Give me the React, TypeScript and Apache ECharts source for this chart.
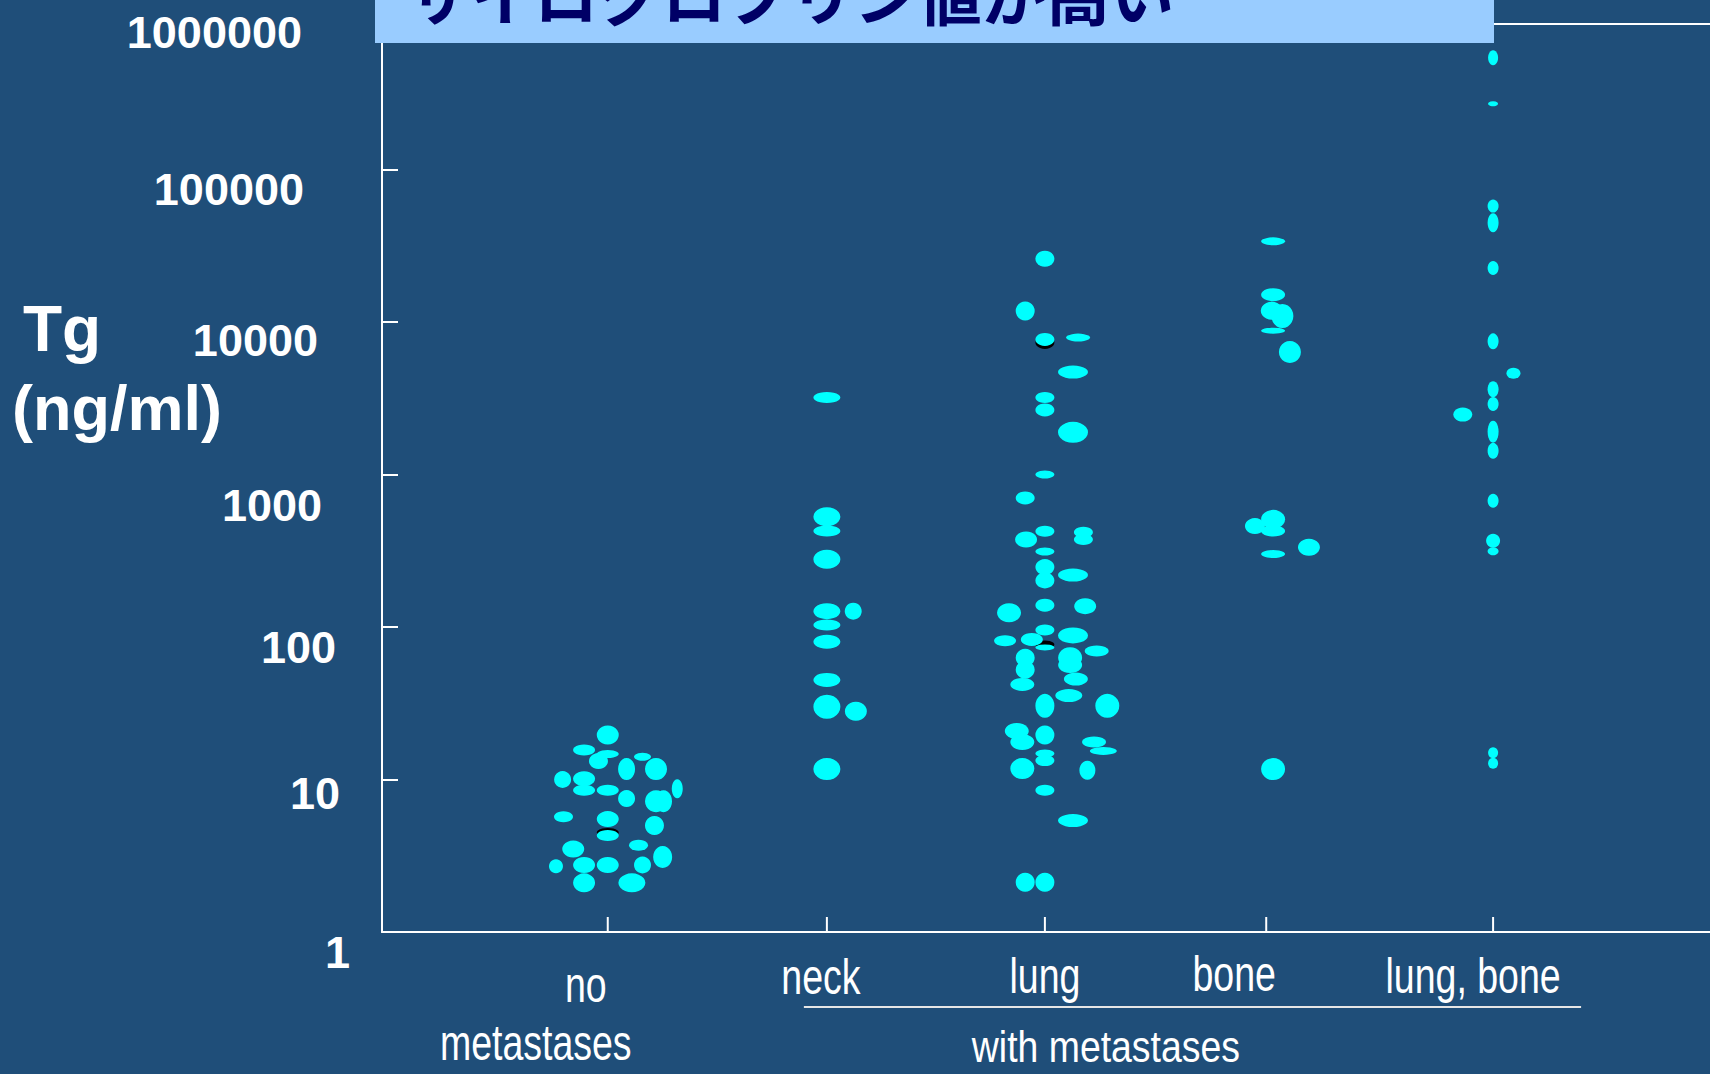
import React, { useEffect, useRef } from 'react';
import * as echarts from 'echarts';

const BG = '#1F4E79';
const CYAN = '#00FFFF';

const categories = ['no metastases', 'neck', 'lung', 'bone', 'lung, bone'];
const categoryPositions = [0, 0.99, 1.975, 2.975, 4.0];
const categoryLabelLines = [['no', 'metastases'], ['neck'], ['lung'], ['bone'], ['lung, bone']];
const groupLabel = 'with metastases';
const titleText = 'サイログロブリン値が高い';
const yTitleLines = ['Tg', '(ng/ml)'];
const yTickValues = [1, 10, 100, 1000, 10000, 100000, 1000000];
const yTickLabels = ['1', '10', '100', '1000', '10000', '100000', '1000000'];

// [horizontal jitter in category units, Tg (ng/ml)]
const noMetastases = [
  [0, 19.6], [-0.107, 15.6], [-0.042, 13.2], [0, 14.7], [0.085, 11.7], [0.157, 14.1], [0.218, 11.7],
  [-0.204, 10.0], [-0.107, 10.1], [-0.107, 8.5], [0, 8.5], [0.085, 7.5], [0.218, 7.2], [0.252, 7.2],
  [0.314, 8.7], [-0.2, 5.7], [0, 5.5], [0, 4.3], [0.211, 5.0], [-0.156, 3.5], [0.139, 3.7],
  [0.248, 3.1], [-0.234, 2.7], [-0.107, 2.75], [0, 2.75], [0.157, 2.75], [-0.107, 2.1], [0.109, 2.1],
];
const neck = [
  [0, 3200], [0, 529], [0, 426], [0, 278], [0, 127], [0.119, 127], [0, 103], [0, 80], [0, 45],
  [0, 30], [0.131, 28], [0, 11.7],
];
const lung = [
  [0, 26000], [-0.089, 11800], [0, 7690], [0.15, 7900], [0.127, 4700], [0, 3200], [0, 2650],
  [0.127, 1890], [0, 1000], [-0.089, 702], [0, 424], [0.174, 418], [0.174, 375], [-0.085, 375],
  [0, 313], [0, 247], [0, 202], [0.127, 219], [-0.162, 124], [0, 139], [0.182, 137], [0, 95.6],
  [-0.18, 81.3], [-0.059, 82.9], [0.127, 88.1], [0, 73.5], [0.234, 69.6], [-0.089, 62.9],
  [-0.089, 52.5], [0.114, 62.9], [0.114, 56.3], [-0.102, 42.0], [0.14, 45.6], [0.108, 35.5],
  [0, 30.4], [0.282, 30.4], [-0.127, 20.8], [-0.102, 17.6], [0, 19.6], [0, 14.8], [0, 13.3],
  [0.222, 17.6], [0.264, 15.4], [-0.102, 11.8], [0.192, 11.5], [0, 8.5], [0.127, 5.38],
  [-0.089, 2.12], [0, 2.12],
];
const bone = [
  [0.031, 33800], [0.031, 15100], [0.025, 11860], [0.073, 10950], [0.031, 8770], [0.107, 6360],
  [-0.051, 459], [0.031, 508], [0.031, 426], [0.193, 333], [0.031, 301], [0.031, 11.7],
];
const lungBone = [
  [0, 540000], [0, 270000], [0, 57600], [0, 44800], [0, 22600], [0, 7470], [0.092, 4610],
  [0, 3620], [0, 2900], [-0.137, 2470], [0, 1910], [0, 1430], [0, 673], [0, 368], [0, 314],
  [0, 15], [0, 12.8],
];
// [category index, jitter, value] of the points that show a dark rim
const shadowPoints = [[0, 0, 4.3], [2, 0, 7690], [2, 0, 73.5]];

// marker sizes [w, h] in px (styles, kept apart from the data)
const noMetSizes = [
  [22, 19], [22, 11], [19, 16], [22, 8], [17, 22], [17, 8], [22, 22], [17, 17], [22, 15], [22, 11],
  [22, 11], [17, 17], [22, 22], [17, 22], [11, 19], [19, 11], [22, 16], [22, 11], [19, 19], [22, 17],
  [19, 11], [19, 22], [14, 14], [22, 16], [22, 16], [17, 17], [22, 19], [27, 19],
];
const neckSizes = [
  [27, 11], [27, 19], [27, 11], [27, 19], [27, 16], [17, 17], [27, 11], [27, 14], [27, 14], [27, 24],
  [22, 19], [27, 22],
];
const lungSizes = [
  [19, 16], [19, 19], [19, 13], [24, 8], [30, 13], [19, 11], [19, 13], [30, 21], [19, 8], [19, 13],
  [19, 11], [19, 11], [19, 11], [22, 16], [19, 8], [19, 16], [19, 16], [30, 13], [24, 19], [19, 13],
  [22, 16], [19, 11], [22, 11], [22, 13], [30, 16], [19, 6], [24, 11], [19, 18], [19, 18], [24, 21],
  [24, 16], [24, 13], [24, 13], [27, 13], [19, 24], [24, 24], [24, 16], [24, 16], [19, 19], [19, 8],
  [19, 11], [24, 11], [27, 8], [24, 21], [16, 19], [19, 11], [30, 13], [19, 19], [19, 19],
];
const boneSizes = [
  [24, 8], [24, 13], [22, 18], [22, 24], [24, 6], [22, 22], [20, 16], [24, 19], [24, 11], [22, 17],
  [24, 8], [24, 22],
];
const lungBoneSizes = [
  [10, 15], [10, 5], [11, 13], [11, 19], [11, 14], [11, 16], [14, 11], [11, 16], [11, 14], [19, 14],
  [11, 22], [11, 16], [11, 14], [14, 14], [11, 8], [10, 11], [10, 11],
];
const shadowSizes = [[22, 9], [19, 13], [19, 8]];
const shadowOffsets = [[0, -3], [0, 3], [0, -3]];

const groups = [noMetastases, neck, lung, bone, lungBone];
const groupSizes = [noMetSizes, neckSizes, lungSizes, boneSizes, lungBoneSizes];

// label nudges relative to tick positions [dx, dy]
const yLabelNudges = [[-32, 20], [-42, 14], [-46, 20], [-60, 31], [-64, 18], [-78, 20], [-80, 15]];
const xLabelNudges = [
  [[-22, 52], [-72, 110]],
  [[-6, 44]],
  [[0, 43]],
  [[-32, 41]],
  [[-20, 43]],
];

const SANS = '"Liberation Sans", Arial, Helvetica, sans-serif';

export default function App() {
  const ref = useRef<HTMLDivElement>(null);

  useEffect(() => {
    document.body.style.margin = '0';
    document.body.style.background = BG;
    const chart = echarts.init(ref.current as HTMLDivElement, undefined, { renderer: 'svg' });

    const mk = (pts: number[][], sizes: number[][], ci: number) =>
      pts.map((p, i) => ({ value: [categoryPositions[ci] + p[0], p[1]], symbolSize: sizes[i] }));

    const shadowData = shadowPoints.map((p, i) => ({
      value: [categoryPositions[p[0]] + p[1], p[2]],
      symbolSize: shadowSizes[i],
      symbolOffset: shadowOffsets[i],
    }));

    chart.setOption({
      animation: false,
      backgroundColor: BG,
      grid: { left: 382, right: 0, top: 17, bottom: 142, containLabel: false },
      xAxis: {
        type: 'value',
        min: -1.02,
        max: 4.98,
        axisLine: { show: true, onZero: false, lineStyle: { color: '#FFFFFF', width: 2 } },
        axisTick: { show: false },
        axisLabel: { show: false },
        splitLine: { show: false },
      },
      yAxis: {
        type: 'log',
        logBase: 10,
        min: 1,
        max: 1000000,
        splitNumber: 6,
        axisLine: { show: true, onZero: false, lineStyle: { color: '#FFFFFF', width: 2 } },
        axisTick: { show: true, inside: true, length: 16, lineStyle: { color: '#FFFFFF', width: 2 } },
        minorTick: { show: false },
        axisLabel: { show: false },
        splitLine: { show: false },
      },
      series: [
        {
          type: 'scatter',
          name: 'rim',
          symbol: 'circle',
          silent: true,
          z: 2,
          itemStyle: { color: '#000000', opacity: 1 },
          data: shadowData,
        },
        ...categories.map((c, ci) => ({
          type: 'scatter',
          name: c,
          symbol: 'circle',
          silent: true,
          z: 3,
          itemStyle: { color: CYAN, opacity: 1 },
          data: mk(groups[ci], groupSizes[ci], ci),
        })),
      ],
    });

    const toPx = (x: number, y: number) => chart.convertToPixel({ gridIndex: 0 }, [x, y]) as number[];
    const axisX = toPx(-1.02, 1)[0];
    const axisY = toPx(0, 1)[1];

    const graphics: any[] = [];

    // y tick labels
    yTickValues.forEach((v, i) => {
      const py = toPx(0, v)[1];
      graphics.push({
        type: 'text',
        x: axisX + yLabelNudges[i][0],
        y: py + yLabelNudges[i][1],
        z: 50,
        style: {
          text: yTickLabels[i],
          fill: '#FFFFFF',
          fontSize: 45,
          fontWeight: 'bold',
          fontFamily: SANS,
          align: 'right',
          verticalAlign: 'middle',
          textAlign: 'right',
          textVerticalAlign: 'middle',
        },
      });
    });

    // category ticks and labels
    categoryPositions.forEach((cp, ci) => {
      const px = toPx(cp, 1)[0];
      graphics.push({
        type: 'line',
        z: 50,
        shape: { x1: px, y1: axisY, x2: px, y2: axisY - 15 },
        style: { stroke: '#FFFFFF', lineWidth: 2 },
      });
      categoryLabelLines[ci].forEach((line, li) => {
        graphics.push({
          type: 'text',
          x: px + xLabelNudges[ci][li][0],
          y: axisY + xLabelNudges[ci][li][1],
          scaleX: 0.75,
          z: 50,
          style: {
            text: line,
            fill: '#FFFFFF',
            fontSize: 50,
            fontFamily: SANS,
            align: 'center',
            verticalAlign: 'middle',
            textAlign: 'center',
            textVerticalAlign: 'middle',
          },
        });
      });
    });

    // bracket line and group label under the metastases categories
    const neckPx = toPx(categoryPositions[1], 1)[0];
    const lungPx = toPx(categoryPositions[2], 1)[0];
    const lbPx = toPx(categoryPositions[4], 1)[0];
    graphics.push({
      type: 'line',
      z: 50,
      shape: { x1: neckPx - 23, y1: axisY + 75, x2: lbPx + 88, y2: axisY + 75 },
      style: { stroke: '#E6E6E6', lineWidth: 2 },
    });
    graphics.push({
      type: 'text',
      x: lungPx + 61,
      y: axisY + 115,
      scaleX: 0.85,
      z: 50,
      style: {
        text: groupLabel,
        fill: '#FFFFFF',
        fontSize: 44,
        fontFamily: SANS,
        align: 'center',
        verticalAlign: 'middle',
        textAlign: 'center',
        textVerticalAlign: 'middle',
      },
    });

    // y axis title
    graphics.push({
      type: 'text',
      x: 23,
      y: 329,
      z: 50,
      style: {
        text: yTitleLines[0],
        fill: '#FFFFFF',
        fontSize: 64,
        fontWeight: 'bold',
        fontFamily: SANS,
        align: 'left',
        verticalAlign: 'middle',
        textAlign: 'left',
        textVerticalAlign: 'middle',
      },
    });
    graphics.push({
      type: 'text',
      x: 12,
      y: 408,
      z: 50,
      style: {
        text: yTitleLines[1],
        fill: '#FFFFFF',
        fontSize: 63,
        fontWeight: 'bold',
        fontFamily: SANS,
        align: 'left',
        verticalAlign: 'middle',
        textAlign: 'left',
        textVerticalAlign: 'middle',
      },
    });

    // title banner (cut at the top of the page, as in the original slide)
    graphics.push({
      type: 'rect',
      z: 100,
      shape: { x: 375, y: 0, width: 1119, height: 43 },
      style: { fill: '#99CCFF' },
    });
    graphics.push({
      type: 'text',
      x: 406,
      y: -8,
      z: 101,
      style: {
        text: titleText,
        fill: '#000066',
        fontSize: 64,
        fontWeight: 'bold',
        fontFamily: '"Noto Sans CJK JP", sans-serif',
        align: 'left',
        verticalAlign: 'middle',
        textAlign: 'left',
        textVerticalAlign: 'middle',
      },
    });
    graphics.push({
      type: 'line',
      z: 100,
      shape: { x1: 1494, y1: 24, x2: 1710, y2: 24 },
      style: { stroke: '#FFFFFF', lineWidth: 2 },
    });

    chart.setOption({ graphic: graphics });

    return () => {
      chart.dispose();
    };
  }, []);

  return (
    <div
      ref={ref}
      style={{ position: 'fixed', left: 0, top: 0, width: 1710, height: 1074, background: BG }}
    />
  );
}
